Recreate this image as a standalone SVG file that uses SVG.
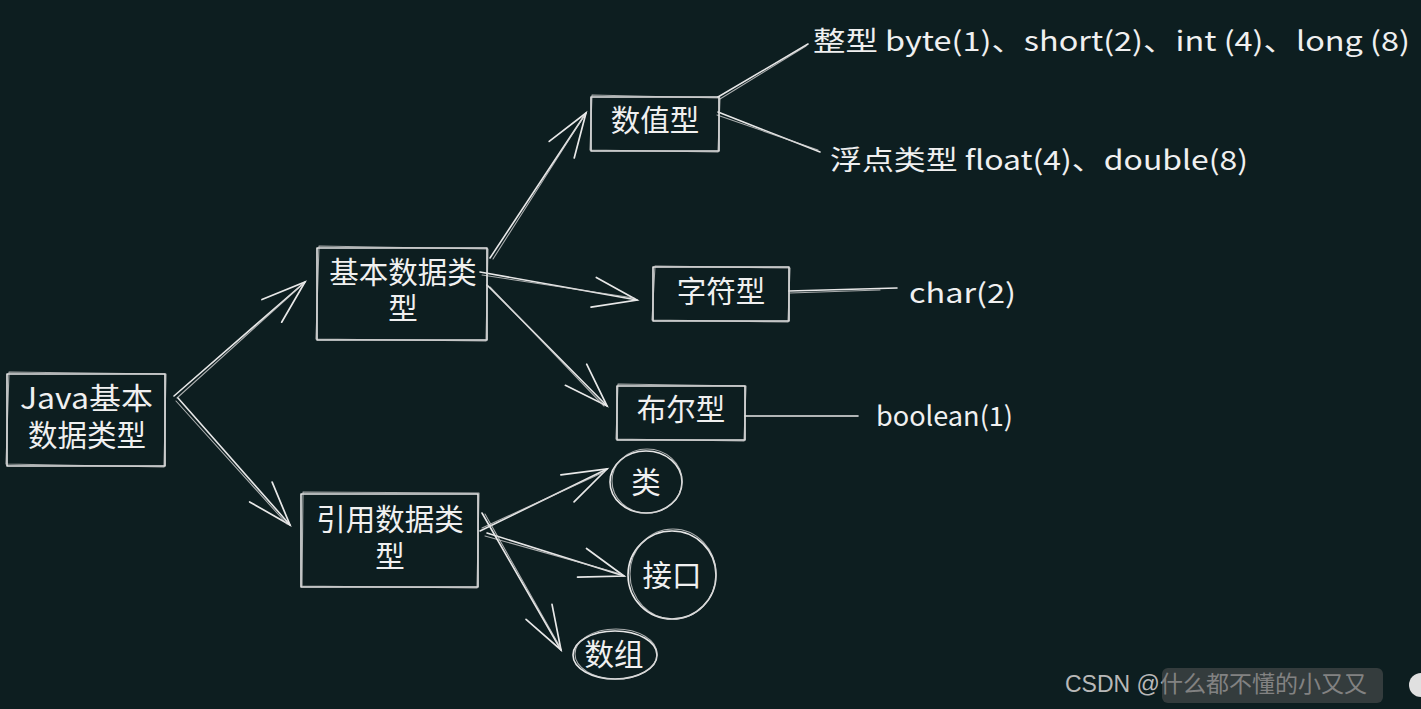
<svg xmlns="http://www.w3.org/2000/svg" width="1421" height="709" viewBox="0 0 1421 709">
<defs>
<style>
.s{fill:none;stroke:#e8e8e8;stroke-width:1.6;stroke-linecap:round;stroke-linejoin:round}
.t{stroke:#cfcfcf;stroke-width:1.1;opacity:0.8}
.lb{fill:#f0f0f0;font-family:"Noto Sans CJK SC","Noto Sans",sans-serif;font-size:29.5px}
.la{fill:#f0f0f0;font-family:"Noto Sans CJK SC","Noto Sans",sans-serif;font-size:27px}
.c{text-anchor:middle}
.wm{fill:#b8b8b8;font-family:"Liberation Sans","Noto Sans CJK SC",sans-serif;font-size:23px}
</style>
<marker id="ah" markerUnits="userSpaceOnUse" markerWidth="60" markerHeight="40" viewBox="-50 -20 60 40" refX="0" refY="0" orient="auto" overflow="visible">
<path d="M-44,-15 L0,0 L-44,15" fill="none" stroke="#e8e8e8" stroke-width="1.7" stroke-linecap="round"/>
</marker>
</defs>
<rect width="1421" height="709" fill="#0d1e20"/>

<g id="connectors">
<path class="s" d="M174,396 L305,282" marker-end="url(#ah)"/>
<path class="s t" d="M177,398 L303,284"/>
<path class="s" d="M178,398 L290,525" marker-end="url(#ah)"/>
<path class="s t" d="M176,401 L287,524"/>
<path class="s" d="M490,258 L586,113" marker-end="url(#ah)"/>
<path class="s t" d="M493,259 L584,116"/>
<path class="s" d="M480,272 L637,300" marker-end="url(#ah)"/>
<path class="s t" d="M482,275 L634,298"/>
<path class="s" d="M487,285 L607,406" marker-end="url(#ah)"/>
<path class="s t" d="M490,287 L604,406"/>
<path class="s" d="M480,531 L607,469" marker-end="url(#ah)"/>
<path class="s t" d="M482,528 L604,472"/>
<path class="s" d="M487,533 L624,576" marker-end="url(#ah)"/>
<path class="s t" d="M485,536 L621,574"/>
<path class="s" d="M482,513 L561,650" marker-end="url(#ah)"/>
<path class="s t" d="M485,514 L560,647"/>
<path class="s" d="M718,97 L808,44"/>
<path class="s t" d="M720,99 L806,46"/>
<path class="s" d="M718,112 L820,152"/>
<path class="s t" d="M717,115 L818,150"/>
<path class="s" d="M789,291 L897,288"/>
<path class="s t" d="M790,293 L880,290"/>
<path class="s" d="M745,416 L858,416"/>
</g>

<g id="n-java">
<rect class="s" x="7" y="374" width="158" height="92"/>
<path class="s t" d="M9,372 L166,374 L164,467 L6,464 Z"/>
<text class="lb" x="20" y="409" textLength="133" lengthAdjust="spacingAndGlyphs">Java基本</text>
<text class="lb c" x="87" y="446">数据类型</text>
</g>

<g id="n-basic">
<rect class="s" x="317" y="248" width="170" height="92"/>
<path class="s t" d="M319,246 L488,249 L486,341 L316,339 Z"/>
<text class="lb c" x="403" y="283">基本数据类</text>
<text class="lb c" x="403" y="319">型</text>
</g>

<g id="n-ref">
<rect class="s" x="301" y="494" width="177" height="93"/>
<path class="s t" d="M303,492 L479,493 L477,588 L302,586 Z"/>
<text class="lb c" x="390" y="530">引用数据类</text>
<text class="lb c" x="390" y="567">型</text>
</g>

<g id="n-num">
<rect class="s" x="591" y="97" width="128" height="54"/>
<path class="s t" d="M592,95 L720,98 L718,152 L590,150 Z"/>
<text class="lb c" x="655" y="131">数值型</text>
</g>

<g id="n-char">
<rect class="s" x="653" y="267" width="136" height="54"/>
<path class="s t" d="M655,266 L790,268 L788,322 L652,320 Z"/>
<text class="lb c" x="721" y="302">字符型</text>
</g>

<g id="n-bool">
<rect class="s" x="617" y="386" width="128" height="54"/>
<path class="s t" d="M618,384 L746,386 L744,441 L616,439 Z"/>
<text class="lb c" x="681" y="420">布尔型</text>
</g>

<g id="n-class">
<ellipse class="s" cx="646" cy="482" rx="36" ry="31"/>
<ellipse class="s t" cx="647" cy="481" rx="35" ry="32"/>
<text class="lb c" x="646" y="493">类</text>
</g>

<g id="n-iface">
<ellipse class="s" cx="672" cy="575" rx="44" ry="44"/>
<ellipse class="s t" cx="673" cy="574" rx="43" ry="45"/>
<text class="lb c" x="672" y="586">接口</text>
</g>

<g id="n-arr">
<ellipse class="s" cx="615" cy="655" rx="42" ry="24"/>
<ellipse class="s t" cx="616" cy="654" rx="41" ry="25"/>
<text class="lb c" x="614" y="665">数组</text>
</g>

<g id="labels">
<text class="la" x="813" y="51" textLength="597" lengthAdjust="spacingAndGlyphs">整型 byte(1)、short(2)、int (4)、long (8)</text>
<text class="la" x="830" y="170" textLength="418" lengthAdjust="spacingAndGlyphs">浮点类型 float(4)、double(8)</text>
<text class="la" x="909" y="303" textLength="107" lengthAdjust="spacingAndGlyphs">char(2)</text>
<text class="la" x="876" y="426" textLength="137" lengthAdjust="spacingAndGlyphs">boolean(1)</text>
</g>

<g id="watermark">
<text class="wm" x="1065" y="692">CSDN @什么都不懂的小又又</text>
<rect x="1162" y="668" width="221" height="35" rx="6" fill="#555" opacity="0.55"/>
<circle cx="1421" cy="685" r="12" fill="#e0e0e0"/>
</g>
</svg>
